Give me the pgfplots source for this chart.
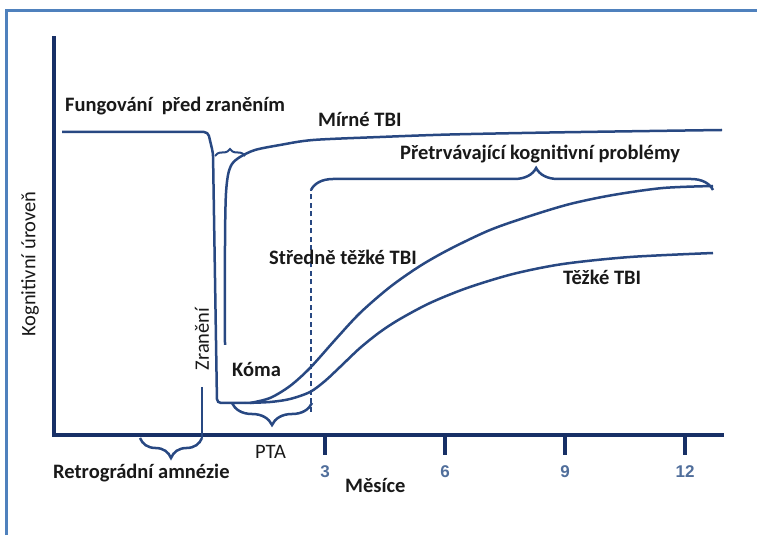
\documentclass[border=0pt]{standalone}
\usepackage{fontspec}
\setmainfont{Carlito}
\newfontfamily\tickfamily{Liberation Sans}
\usepackage{pgfplots}
\pgfplotsset{compat=1.18}
\usetikzlibrary{decorations.pathreplacing}
\definecolor{curvec}{RGB}{40,72,130}
\definecolor{axisc}{RGB}{24,48,102}
\definecolor{tickc}{RGB}{80,110,155}
\definecolor{framec}{RGB}{79,129,189}
\definecolor{txt}{RGB}{25,25,25}
\newcommand\lf{\fontsize{20.5}{24}\selectfont}
\begin{document}
\begin{tikzpicture}[x=1pt,y=1pt]
\useasboundingbox (0,0) rectangle (757,535);
\draw[framec, line width=2.5pt] (6.5,0) -- (6.5,524.5) -- (757,524.5);
\begin{axis}[
  at={(54pt,100pt)}, anchor=south west,
  scale only axis, width=668pt, height=397pt,
  xmin=-3.775, xmax=12.925, ymin=0, ymax=397,
  axis x line=bottom, axis y line=left,
  axis line style={-, line width=4pt, color=axisc, line cap=rect},
  xtick={3,6,9,12}, ytick=\empty,
  tick align=outside, major tick length=20pt,
  xtick style={line width=3.5pt, color=axisc},
  /pgf/number format/assume math mode=true,
  xticklabel style={font=\fontsize{17}{20}\tickfamily\bfseries, text=tickc, yshift=-7pt},
  clip=false,
  every axis plot/.append style={curvec, line width=2.5pt, mark=none},
]
% pre-injury level and drop at injury
\addplot[rounded corners=4pt] coordinates {(-3.575,303) (0.075,303) (0.2,282) (0.3,32) (1.0,32)};
% mild TBI
\addplot[smooth, tension=0.5] coordinates {(0.5,90) (0.5,190) (0.52,238) (0.575,260) (0.675,271) (0.875,278) (1.25,285) (1.875,290) (2.7,295) (4.375,298) (6.125,300.5) (8.625,302.5) (11.125,304) (12.925,305)};
% moderate TBI
\addplot[smooth, tension=0.5] coordinates {(1.125,32) (1.625,37) (2.125,49) (2.625,67) (3.25,95) (3.875,122) (4.625,148) (5.375,169) (6.125,186) (7.125,205) (8.125,219) (9.125,231) (10.2,240) (11.45,247) (12.7,249)};
% severe TBI
\addplot[smooth, tension=0.5] coordinates {(1.0,32) (1.625,33) (2.125,36) (2.625,43) (3.0,54) (3.375,68) (3.875,87) (4.375,103) (4.875,116) (5.625,132) (6.55,147) (7.7,161) (8.95,171) (10.625,178) (12.7,182)};
% end of PTA (dashed)
\addplot[dash pattern=on 5pt off 3.5pt, line width=2.2pt] coordinates {(2.65,23) (2.65,245)};
% injury marker
\addplot[] coordinates {(-0.075,48) (-0.075,-3)};
% braces
\draw[curvec, line width=2.5pt, decorate, decoration={brace, amplitude=22pt, aspect=0.56}] (axis cs:2.65,245) -- (axis cs:12.7,245);
\draw[curvec, line width=2.5pt, decorate, decoration={brace, amplitude=22pt}] (axis cs:2.675,32) -- (axis cs:0.675,32);
\draw[curvec, line width=2.5pt, decorate, decoration={brace, amplitude=20pt}] (axis cs:-0.075,-3) -- (axis cs:-1.625,-3);
\draw[curvec, line width=2pt, decorate, decoration={brace, amplitude=7pt}] (axis cs:0.25,279) -- (axis cs:1.0,279);
% labels
\node[anchor=base west, text=txt, font=\lf\bfseries, inner sep=0pt] at (axis cs:-3.5,323) {Fungování\ \ před zraněním};
\node[anchor=base west, text=txt, font=\lf\bfseries, inner sep=0pt] at (axis cs:2.825,308) {Mírné TBI};
\node[anchor=base west, text=txt, font=\lf\bfseries, inner sep=0pt] at (axis cs:4.875,275) {Přetrvávající kognitivní problémy};
\node[anchor=base east, text=txt, font=\lf\bfseries, inner sep=0pt] at (axis cs:5.3,170) {Středně těžké TBI};
\node[anchor=base west, text=txt, font=\lf\bfseries, inner sep=0pt] at (axis cs:8.95,150) {Těžké TBI};
\node[anchor=base west, text=txt, font=\lf\bfseries, inner sep=0pt] at (axis cs:0.675,58) {Kóma};
\node[rotate=90, text=txt, font=\lf, inner sep=0pt] at (axis cs:-0.075,96) {Zranění};
\node[rotate=90, text=txt, font=\lf, inner sep=0pt] at (axis cs:-4.375,171) {Kognitivní úroveň};
\node[anchor=base west, text=txt, font=\lf, inner sep=0pt] at (axis cs:1.25,-24) {PTA};
\node[anchor=base west, text=txt, font=\lf\bfseries, inner sep=0pt] at (axis cs:-3.8,-44) {Retrográdní amnézie};
\node[anchor=base west, text=txt, font=\lf\bfseries, inner sep=0pt] at (axis cs:3.5,-57) {Měsíce};
\end{axis}
\end{tikzpicture}
\end{document}
